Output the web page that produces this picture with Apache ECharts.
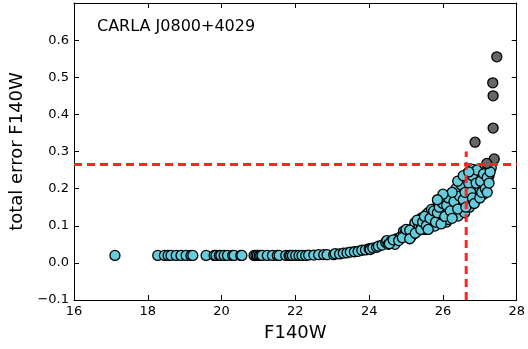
<!DOCTYPE html>
<html><head><meta charset="utf-8">
<script src="https://cdn.jsdelivr.net/npm/echarts@6/dist/echarts.min.js"></script>
<style>html,body{margin:0;padding:0;background:#fff}#c{width:528px;height:349px}</style>
</head><body><div id="c"></div>
<script>
// Cyan (kept) sources: F140W magnitude and total error
const cyanX = [17.11,18.27,18.45,18.55,18.63,18.77,18.90,19.04,19.17,19.22,19.58,19.80,19.85,19.94,19.98,20.07,20.16,20.30,20.34,20.52,20.55,20.88,20.93,20.97,21.02,21.06,21.10,21.24,21.38,21.51,21.56,21.74,21.83,21.87,21.92,22.01,22.10,22.18,22.28,22.36,22.50,22.63,22.77,22.86,
23.04,23.08,23.20,23.30,23.40,23.49,23.60,23.70,23.80,23.90,24.00,24.03,24.10,24.20,24.25,24.35,24.45,24.48,24.52,24.60,24.70,24.75,24.85,24.93,24.97,25.05,25.15,25.20,25.24,25.30,25.35,25.42,25.42,25.51,25.55,25.60,25.60,25.69,25.70,25.78,25.80,25.87,25.92,25.96,26.00,26.05,26.10,26.14,26.14,26.20,26.23,26.30,26.32,26.36,26.41,26.45,26.50,26.54,26.59,26.59,26.65,26.68,26.68,26.72,26.77,26.81,26.86,26.86,26.90,26.95,26.95,27.00,27.04,27.08,27.10,27.13,27.13,27.18,27.22,27.25,27.31,
24.55,24.65,24.80,24.90,25.00,25.10,25.10,25.25,25.30,25.40,25.45,25.50,25.55,25.60,25.65,25.75,25.80,25.85,25.90,25.95,26.00,26.05,26.10,26.15,26.20,26.25,26.30,26.35,26.40,26.45,26.50,26.55,26.60,26.62,26.70,26.75,26.80,26.80,26.85,26.90,26.92,27.00,27.02,27.05,27.10,27.15,27.20,27.20,27.25,27.28,26.25,26.00,25.85,26.40,26.55,26.70];
const cyanY = [0.020,0.020,0.020,0.020,0.020,0.020,0.020,0.020,0.020,0.020,0.020,0.020,0.020,0.020,0.020,0.020,0.020,0.020,0.020,0.020,0.020,0.020,0.020,0.020,0.020,0.020,0.020,0.020,0.020,0.020,0.020,0.020,0.020,0.020,0.020,0.020,0.020,0.020,0.020,0.021,0.021,0.022,0.022,0.022,
0.022,0.025,0.024,0.026,0.027,0.029,0.030,0.031,0.034,0.035,0.038,0.036,0.040,0.042,0.045,0.048,0.055,0.060,0.050,0.058,0.050,0.065,0.070,0.085,0.080,0.075,0.072,0.095,0.108,0.085,0.100,0.121,0.099,0.090,0.130,0.112,0.135,0.144,0.105,0.099,0.125,0.162,0.121,0.144,0.130,0.170,0.110,0.117,0.144,0.180,0.162,0.130,0.189,0.162,0.126,0.216,0.153,0.198,0.135,0.225,0.200,0.171,0.243,0.150,0.162,0.252,0.198,0.225,0.170,0.180,0.243,0.200,0.233,0.207,0.185,0.225,0.243,0.215,0.252,0.235,0.256,
0.052,0.062,0.060,0.068,0.090,0.088,0.065,0.080,0.115,0.090,0.110,0.125,0.100,0.090,0.120,0.140,0.110,0.135,0.150,0.105,0.160,0.125,0.155,0.175,0.140,0.120,0.165,0.200,0.145,0.180,0.210,0.170,0.190,0.150,0.215,0.190,0.175,0.235,0.160,0.215,0.250,0.175,0.220,0.190,0.240,0.200,0.230,0.190,0.215,0.245,0.190,0.185,0.170,0.220,0.235,0.245];
// Gray (rejected) sources
const grayX = [27.46,27.35,27.36,27.36,26.87,27.39,27.19];
const grayY = [0.555,0.485,0.450,0.363,0.325,0.280,0.268];
// Threshold cuts
const cutY = 0.265;
const cutX = 26.63;
const cutXTop = 0.30;
const xTicks = [16,18,20,22,24,26,28];
const yTicks = [-0.1,0,0.1,0.2,0.3,0.4,0.5,0.6];

const cyanData = cyanX.map((x,i)=>[x,cyanY[i]]);
const grayData = grayX.map((x,i)=>[x,grayY[i]]);
const font = 'DejaVu Sans';
const fmtY = v => { if (v > 0.65) return ''; const s = (Math.round(v*10)/10).toFixed(1); return s.replace('-', '\u2212'); };
const chart = echarts.init(document.getElementById('c'), null, {renderer:'canvas'});
const lineStyleAx = {color:'#000', width:1};
chart.setOption({
  animation:false,
  grid:{left:74,right:9,top:3,bottom:49},
  xAxis:[{type:'value',min:16,max:28,interval:2,position:'bottom',
    name:'F140W',nameLocation:'middle',nameGap:24,nameTextStyle:{fontFamily:font,fontSize:18,color:'#000'},
    axisLine:{show:true,onZero:false,lineStyle:lineStyleAx},axisTick:{show:true,inside:true,length:5,lineStyle:lineStyleAx},
    axisLabel:{fontFamily:font,fontSize:13,color:'#000',margin:5},splitLine:{show:false}},
    {type:'value',min:16,max:28,interval:2,position:'top',
    axisLine:{show:true,onZero:false,lineStyle:lineStyleAx},axisTick:{show:true,inside:true,length:5,lineStyle:lineStyleAx},
    axisLabel:{show:false},splitLine:{show:false}}],
  yAxis:[{type:'value',min:-0.1,max:0.7,interval:0.1,position:'left',
    name:'total error F140W',nameLocation:'middle',nameGap:44,nameTextStyle:{fontFamily:font,fontSize:18,color:'#000'},
    axisLine:{show:true,onZero:false,lineStyle:lineStyleAx},axisTick:{show:true,inside:true,length:5,lineStyle:lineStyleAx},
    axisLabel:{fontFamily:font,fontSize:13,color:'#000',margin:5,formatter:fmtY},splitLine:{show:false}},
    {type:'value',min:-0.1,max:0.7,interval:0.1,position:'right',
    axisLine:{show:true,onZero:false,lineStyle:lineStyleAx},axisTick:{show:true,inside:true,length:5,lineStyle:lineStyleAx},
    axisLabel:{show:false},splitLine:{show:false}}],
  series:[
    {type:'scatter',data:cyanData,symbolSize:10,itemStyle:{color:'#66cbda',borderColor:'#000',borderWidth:1.3,opacity:1},z:2},
    {type:'scatter',data:grayData,symbolSize:10,itemStyle:{color:'#666666',borderColor:'#000',borderWidth:1.3,opacity:1},z:3},
    {type:'line',data:[[16,cutY],[28,cutY]],symbol:'none',lineStyle:{color:'#ff2424',width:3,type:[8,5]},z:4,silent:true},
    {type:'line',data:[[cutX,-0.1],[cutX,cutXTop]],symbol:'none',lineStyle:{color:'#ff2424',width:3,type:[8,5]},z:4,silent:true}
  ],
  graphic:[{type:'text',left:97,top:19,style:{text:'CARLA J0800+4029',fontFamily:font,fontSize:16,fill:'#000'}}]
});
</script></body></html>
